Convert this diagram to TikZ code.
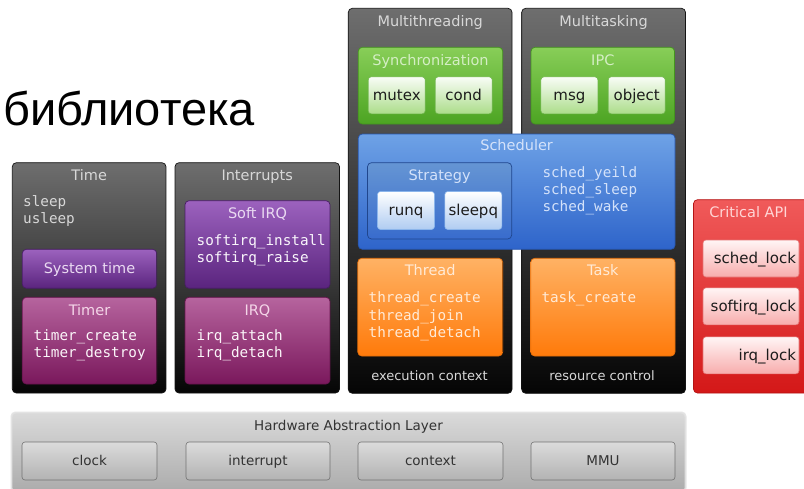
\documentclass[tikz,border=0pt]{standalone}
\usepackage{fontspec}
\setmainfont{DejaVu Sans}
\setmonofont{DejaVu Sans Mono}
\newfontfamily\rufont{Liberation Sans}

% panel colours
\definecolor{darkTop}{HTML}{6E6E6E}
\definecolor{darkBot}{HTML}{050505}
\definecolor{purpTop}{HTML}{9C62BE}
\definecolor{purpBot}{HTML}{5A247E}
\definecolor{magTop}{HTML}{B6649E}
\definecolor{magBot}{HTML}{7A185C}
\definecolor{grnTop}{HTML}{88CE58}
\definecolor{grnBot}{HTML}{4CA422}
\definecolor{bluTop}{HTML}{6EA2E6}
\definecolor{bluBot}{HTML}{2E64CA}
\definecolor{orgTop}{HTML}{FFB264}
\definecolor{orgBot}{HTML}{FF7A0A}
\definecolor{redTop}{HTML}{F05A5A}
\definecolor{redBot}{HTML}{D41818}
\definecolor{halTop}{HTML}{DADADA}
\definecolor{halBot}{HTML}{ABABAB}
% text colours
\definecolor{ttlGray}{HTML}{D8D8D8}
\definecolor{ttlGreen}{HTML}{D4EEC4}
\definecolor{ttlBlue}{HTML}{D4E2FA}
\definecolor{ttlOrange}{HTML}{FFEAD6}
\definecolor{ttlPurple}{HTML}{EADAF2}
\definecolor{ttlPink}{HTML}{F4D6E8}
\definecolor{ttlRed}{HTML}{FFD6D6}
\definecolor{btnText}{HTML}{1C1C1C}

\tikzset{
  box/.style={rounded corners=4pt, line width=0.7pt},
  darkpanel/.style={box, draw=black!92, top color=darkTop, bottom color=darkBot},
  purplebox/.style={box, draw=purpBot!80!black, top color=purpTop, bottom color=purpBot},
  magentabox/.style={box, draw=magBot!85!black, top color=magTop, bottom color=magBot},
  greenbox/.style={box, draw=grnBot!90!black, top color=grnTop, bottom color=grnBot},
  bluebox/.style={box, draw=bluBot!85!black, top color=bluTop, bottom color=bluBot},
  strategybox/.style={box, draw=bluBot!70!black, top color=bluTop!92!black, bottom color=bluBot!95!white},
  orangebox/.style={box, draw=orgBot!90!black, top color=orgTop, bottom color=orgBot},
  redbox/.style={box, draw=redBot!85!black, top color=redTop, bottom color=redBot},
  halbox/.style={box, draw=white!88!black, top color=halTop, bottom color=halBot},
  ttl/.style={font=\fontsize{14.5}{17}\selectfont, anchor=base, inner sep=0pt},
  footer/.style={ttl, font=\fontsize{13}{16}\selectfont, text=ttlGray},
  code/.style={font=\ttfamily\fontsize{14.3}{17}\selectfont, anchor=base west, inner sep=0pt},
  btn/.style={rounded corners=3pt, line width=0.6pt, inner sep=0pt,
    font=\fontsize{15}{17}\selectfont, text=btnText,
    text height=10.5pt, text depth=1.1pt},
  greenbtn/.style={btn, draw=grnBot!80!white, top color=white!95!grnTop, bottom color=grnTop!70!white,
    minimum width=57pt, minimum height=37pt},
  bluebtn/.style={btn, draw=bluTop!80!white, top color=white, bottom color=bluTop!55!white,
    minimum width=57pt, minimum height=38pt},
  redbtn/.style={btn, draw=redBot!60!white, top color=white!96!red, bottom color=redTop!50!white,
    minimum width=96pt, minimum height=37pt, text width=90pt, inner xsep=3pt, align=right},
  halbtn/.style={btn, draw=black!55, top color=white!86!black, bottom color=white!70!black,
    minimum width=135pt, minimum height=38pt, text=black!80, font=\fontsize{13.5}{16}\selectfont}
}

\begin{document}
\begin{tikzpicture}[x=1pt,y=-1pt]
\useasboundingbox (0,0) rectangle (804,488);
\fill[white] (0,0) rectangle (804,488);

% heading
\node[anchor=base west, inner sep=0pt, font=\rufont\fontsize{47}{50}\selectfont] (lib) at (3,125) {библиотека};

% ---------- Time ----------
\path[darkpanel] (12.3,162.7) rectangle (166,393);
\node[ttl, text=ttlGray] (timeT) at (89.2,180) {Time};
\node[code, text=ttlGray] (sleep) at (23,206.7) {sleep};
\node[code, text=ttlGray] (usleep) at (23,223.7) {usleep};
\path[purplebox] (22.3,249.3) rectangle (156.7,288.3);
\node[ttl, text=ttlPurple] (systime) at (89.5,273.3) {System time};
\path[magentabox] (22.3,297.3) rectangle (156.7,384);
\node[ttl, text=ttlPink] (timerT) at (89.5,315) {Timer};
\node[code, text=white!94!magTop] (tcreate) at (33.5,340) {timer\_create};
\node[code, text=white!94!magTop] (tdestroy) at (33.5,357) {timer\_destroy};

% ---------- Interrupts ----------
\path[darkpanel] (175,162.7) rectangle (339.5,393);
\node[ttl, text=ttlGray] (intT) at (257.2,180) {Interrupts};
\path[purplebox] (185,200.7) rectangle (330,288.3);
\node[ttl, text=ttlPurple] (softT) at (257.5,218.3) {Soft IRQ};
\node[code, text=white!94!purpTop] (sinstall) at (196.5,245) {softirq\_install};
\node[code, text=white!94!purpTop] (sraise) at (196.5,262) {softirq\_raise};
\path[magentabox] (185,297.3) rectangle (330,384);
\node[ttl, text=ttlPink] (irqT) at (257.5,315) {IRQ};
\node[code, text=white!94!magTop] (iattach) at (196.5,340) {irq\_attach};
\node[code, text=white!94!magTop] (idetach) at (196.5,357) {irq\_detach};

% ---------- Multithreading ----------
\path[darkpanel] (348.3,8.3) rectangle (512,393.3);
\node[ttl, text=ttlGray] (mthT) at (430.2,26.5) {Multithreading};
\path[greenbox] (358.3,47.3) rectangle (502.7,124);
\node[ttl, text=ttlGreen] (syncT) at (430.5,65) {Synchronization};
\node[greenbtn] (mutex) at (396.7,95.3) {mutex};
\node[greenbtn] (cond) at (463.7,95.3) {cond};

% ---------- Multitasking ----------
\path[darkpanel] (521.7,8.3) rectangle (685.5,393.3);
\node[ttl, text=ttlGray] (mtaT) at (603.6,26.5) {Multitasking};
\path[greenbox] (531,47.3) rectangle (674.5,124);
\node[ttl, text=ttlGreen] (ipcT) at (602.8,65) {IPC};
\node[greenbtn] (msg) at (569.4,95.3) {msg};
\node[greenbtn] (object) at (636.7,95.3) {object};

% ---------- Scheduler (spans both columns) ----------
\path[bluebox] (358.3,134) rectangle (675,249.3);
\node[ttl, text=ttlBlue] (schedT) at (516.6,150.5) {Scheduler};
\path[strategybox] (367.5,162.7) rectangle (511.7,239);
\node[ttl, text=ttlBlue] (stratT) at (439.6,180) {Strategy};
\node[bluebtn] (runq) at (406,210.5) {runq};
\node[bluebtn] (sleepq) at (473.3,210.5) {sleepq};
\node[code, text=ttlBlue] (syeild) at (542.3,177.3) {sched\_yeild};
\node[code, text=ttlBlue] (ssleep) at (542.3,194.6) {sched\_sleep};
\node[code, text=ttlBlue] (swake) at (542.3,211.9) {sched\_wake};

% ---------- Thread / Task ----------
\path[orangebox] (357.8,258.3) rectangle (502.7,356);
\node[ttl, text=ttlOrange] (threadT) at (430.2,275.5) {Thread};
\node[code, text=ttlOrange] (thcreate) at (368.5,302.7) {thread\_create};
\node[code, text=ttlOrange] (thjoin) at (368.5,320) {thread\_join};
\node[code, text=ttlOrange] (thdetach) at (368.5,337.3) {thread\_detach};
\node[footer] (execT) at (429.5,380) {execution context};

\path[orangebox] (530.7,258.3) rectangle (675,356);
\node[ttl, text=ttlOrange] (taskT) at (602.8,275.5) {Task};
\node[code, text=ttlOrange] (tkcreate) at (541.3,302.7) {task\_create};
\node[footer] (resT) at (602,380) {resource control};

% ---------- Critical API ----------
\path[redbox] (693.5,199.7) rectangle (812,393);
\node[ttl, text=ttlRed] (critT) at (748.5,217.3) {Critical API};
\node[redbtn] (schedlock) at (751,258.5) {sched\_lock};
\node[redbtn] (softlock) at (751,306.3) {softirq\_lock};
\node[redbtn] (irqlock) at (751,355.3) {irq\_lock};

% ---------- Hardware Abstraction Layer ----------
\path[box, draw=black!10, line width=2pt] (11.5,412.5) rectangle (685.5,492);
\path[halbox] (12,413) rectangle (685,492);
\node[ttl, text=black!80, font=\fontsize{13.5}{16}\selectfont] (halT) at (348.5,430.5) {Hardware Abstraction Layer};
\node[halbtn] (clock) at (89.5,461) {clock};
\node[halbtn, minimum width=144pt] (interrupt) at (258,461) {interrupt};
\node[halbtn, minimum width=145pt] (context) at (430.5,461) {context};
\node[halbtn, minimum width=144pt] (mmu) at (603,461) {MMU};
\end{tikzpicture}
\end{document}
